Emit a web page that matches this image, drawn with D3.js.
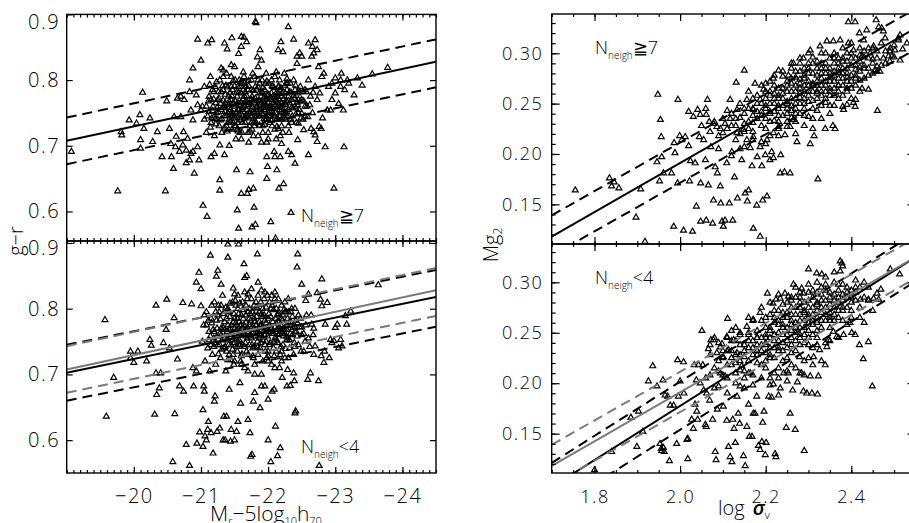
<!DOCTYPE html>
<html>
<head>
<meta charset="utf-8">
<script src="https://cdn.jsdelivr.net/npm/d3@7"></script>
<style>
body { margin: 0; background: #fff; }
svg text { font-family: "Open Sans", "Liberation Sans", sans-serif; font-weight: 300; fill: #000; }
</style>
</head>
<body>
<svg id="chart" width="909" height="523"></svg>
<script>
// g-r colour vs absolute magnitude, rich environment (N_neigh >= 7)
var grRichPts = [
[-19.07,0.691],[-19.76,0.631],[-19.81,0.721],[-19.82,0.716],[-19.93,0.739],[-20.04,0.734],[-20.09,0.747],[-20.13,0.781],[-20.15,0.726],[-20.10,0.709],
[-20.10,0.696],[-20.24,0.742],[-20.28,0.706],[-20.35,0.721],[-20.42,0.683],[-20.47,0.631],[-20.49,0.768],[-20.53,0.726],[-20.55,0.703],[-20.56,0.683],
[-20.59,0.665],[-20.60,0.744],[-20.62,0.698],[-20.63,0.714],[-20.65,0.772],[-20.68,0.691],[-20.70,0.775],[-20.73,0.701],[-20.74,0.721],[-20.78,0.693],
[-20.78,0.674],[-20.80,0.711],[-20.83,0.678],[-20.85,0.688],[-20.88,0.691],[-20.90,0.658],[-20.95,0.698],[-20.97,0.678],[-20.70,0.744],[-20.75,0.770],
[-20.83,0.782],[-20.85,0.754],[-20.88,0.739],[-20.93,0.777],[-20.95,0.762],[-21.00,0.754],[-20.83,0.800],[-20.88,0.818],[-20.95,0.862],[-21.00,0.830],
[-21.03,0.609],[-21.09,0.592],[-21.10,0.856],[-21.16,0.861],[-21.15,0.683],[-21.20,0.688],[-21.28,0.701],[-21.35,0.856],[-21.39,0.847],[-21.46,0.864],
[-21.60,0.866],[-21.64,0.865],[-21.68,0.858],[-21.60,0.851],[-21.56,0.840],[-21.50,0.820],[-21.45,0.823],[-21.30,0.818],[-21.33,0.815],[-21.28,0.648],
[-21.28,0.632],[-21.35,0.686],[-21.53,0.663],[-21.54,0.602],[-21.56,0.574],[-21.60,0.627],[-21.69,0.627],[-21.73,0.660],[-21.71,0.633],[-21.76,0.576],
[-21.81,0.580],[-21.79,0.606],[-21.78,0.635],[-21.81,0.889],[-21.82,0.887],[-21.84,0.835],[-21.85,0.820],[-21.88,0.846],[-21.90,0.830],[-21.98,0.650],
[-21.99,0.668],[-21.98,0.683],[-22.10,0.683],[-22.18,0.683],[-22.20,0.703],[-22.09,0.691],[-22.04,0.584],[-22.11,0.559],[-22.15,0.846],[-22.19,0.858],
[-22.22,0.843],[-22.30,0.881],[-22.38,0.862],[-22.43,0.836],[-22.43,0.825],[-22.47,0.841],[-22.50,0.836],[-22.60,0.856],[-22.65,0.836],[-22.68,0.841],
[-22.73,0.846],[-22.70,0.861],[-22.66,0.851],[-22.34,0.598],[-22.23,0.642],[-22.16,0.635],[-22.13,0.663],[-22.30,0.691],[-22.35,0.686],[-22.40,0.673],
[-22.44,0.709],[-22.45,0.734],[-22.50,0.749],[-22.53,0.724],[-22.59,0.744],[-22.60,0.686],[-22.64,0.726],[-22.68,0.721],[-22.70,0.716],[-22.73,0.706],
[-22.76,0.729],[-22.79,0.726],[-22.85,0.698],[-22.81,0.742],[-22.88,0.754],[-22.93,0.754],[-22.95,0.770],[-22.98,0.635],[-23.05,0.764],[-23.08,0.800],
[-23.09,0.810],[-23.12,0.754],[-23.13,0.698],[-23.14,0.785],[-23.18,0.800],[-23.20,0.795],[-23.28,0.777],[-23.33,0.803],[-23.40,0.792],[-23.55,0.809],
[-23.78,0.819],[-23.00,0.803],[-22.95,0.795],[-22.80,0.805],[-22.75,0.820],[-22.83,0.810],[-22.90,0.790],[-23.00,0.780],[-23.08,0.790],
[-21.02,0.76],[-21.05,0.79],[-21.08,0.72],[-21.10,0.745],[-21.12,0.775],[-21.14,0.805],[-21.15,0.735],[-21.18,0.76],[-21.20,0.715],[-21.21,0.79],
[-21.23,0.75],[-21.25,0.77],[-21.27,0.73],[-21.28,0.80],[-21.30,0.755],[-21.31,0.72],[-21.33,0.785],[-21.35,0.745],[-21.36,0.765],[-21.38,0.81],
[-21.40,0.735],[-21.41,0.775],[-21.42,0.70],[-21.44,0.755],[-21.45,0.79],[-21.46,0.725],[-21.48,0.765],[-21.50,0.745],[-21.51,0.80],[-21.52,0.71],
[-21.54,0.775],[-21.55,0.735],[-21.56,0.755],[-21.58,0.79],[-21.60,0.765],[-21.61,0.72],[-21.62,0.745],[-21.64,0.805],[-21.65,0.775],[-21.66,0.735],
[-21.68,0.755],[-21.70,0.785],[-21.71,0.705],[-21.72,0.765],[-21.74,0.745],[-21.75,0.80],[-21.76,0.725],[-21.78,0.77],[-21.80,0.75],[-21.81,0.79],
[-21.82,0.735],[-21.84,0.76],[-21.85,0.715],[-21.87,0.78],[-21.88,0.745],[-21.90,0.765],[-21.91,0.80],[-21.92,0.73],[-21.94,0.755],[-21.95,0.785],
[-21.96,0.74],[-21.98,0.77],[-22.00,0.72],[-22.01,0.795],[-22.02,0.76],[-22.04,0.745],[-22.05,0.78],[-22.06,0.73],[-22.08,0.765],[-22.10,0.805],
[-22.11,0.75],[-22.12,0.71],[-22.14,0.775],[-22.15,0.74],[-22.16,0.79],[-22.18,0.76],[-22.20,0.73],[-22.21,0.78],[-22.22,0.75],[-22.24,0.81],
[-22.25,0.765],[-22.26,0.74],[-22.28,0.785],[-22.30,0.755],[-22.31,0.72],[-22.33,0.795],[-22.35,0.77],[-22.36,0.745],[-22.38,0.80],[-22.40,0.76],
[-22.42,0.735],[-22.44,0.78],[-22.46,0.755],[-22.48,0.79],[-22.50,0.77],[-22.52,0.74],[-22.55,0.785],[-22.58,0.76],[-22.60,0.80],[-22.63,0.775],
[-22.66,0.75],[-22.70,0.79],[-22.73,0.77],[-22.77,0.78],
[-21.35,0.76],[-21.40,0.75],[-21.45,0.77],[-21.50,0.76],[-21.55,0.755],[-21.60,0.78],[-21.65,0.76],[-21.70,0.745],[-21.75,0.77],[-21.80,0.765],
[-21.85,0.755],[-21.90,0.78],[-21.95,0.765],[-22.00,0.75],[-22.05,0.77],[-22.10,0.76],[-22.15,0.78],[-22.20,0.765],[-22.25,0.75],[-22.30,0.775],
[-21.42,0.74],[-21.52,0.73],[-21.62,0.735],[-21.72,0.73],[-21.82,0.745],[-21.92,0.72],[-22.02,0.735],[-22.12,0.74],[-22.22,0.72],[-21.47,0.785],
[-21.57,0.80],[-21.67,0.79],[-21.77,0.81],[-21.87,0.795],[-21.97,0.81],[-22.07,0.79],[-22.17,0.80],[-22.27,0.795],[-21.33,0.805],[-21.38,0.73],
[-21.58,0.72],[-21.78,0.715],[-21.98,0.705],[-22.18,0.715],[-21.22,0.765],[-21.25,0.74],[-21.17,0.785],[-22.34,0.74],[-22.45,0.77],[-22.55,0.76],
[-21.12,0.752],[-21.16,0.742],[-21.19,0.771],[-21.22,0.733],[-21.24,0.758],[-21.26,0.782],[-21.29,0.764],[-21.31,0.741],[-21.33,0.769],[-21.36,0.752],
[-21.37,0.792],[-21.39,0.722],[-21.41,0.762],[-21.43,0.781],[-21.44,0.737],[-21.46,0.751],[-21.48,0.799],[-21.49,0.742],[-21.51,0.768],[-21.53,0.752],
[-21.54,0.725],[-21.56,0.781],[-21.57,0.762],[-21.59,0.739],[-21.61,0.795],[-21.62,0.771],[-21.63,0.752],[-21.66,0.782],[-21.67,0.745],[-21.69,0.765],
[-21.71,0.799],[-21.72,0.752],[-21.73,0.722],[-21.76,0.775],[-21.77,0.759],[-21.79,0.735],[-21.81,0.772],[-21.83,0.786],[-21.84,0.748],[-21.86,0.769],
[-21.87,0.731],[-21.89,0.755],[-21.91,0.782],[-21.93,0.762],[-21.94,0.741],[-21.96,0.795],[-21.97,0.758],[-21.99,0.778],[-22.01,0.745],[-22.03,0.772],
[-22.04,0.756],[-22.06,0.791],[-22.08,0.748],[-22.09,0.773],[-22.11,0.762],[-22.13,0.729],[-22.14,0.759],[-22.16,0.771],[-22.17,0.745],[-22.19,0.788],
[-22.21,0.758],[-22.23,0.771],[-22.24,0.742],[-22.26,0.762],[-22.28,0.751],[-22.29,0.795],[-22.32,0.765],[-22.34,0.781],[-22.37,0.757],[-22.39,0.772],
[-22.41,0.748],[-22.43,0.766],[-22.47,0.782],[-22.49,0.742],[-22.53,0.768],[-22.57,0.782],[-22.62,0.762],[-22.67,0.781],[-21.42,0.758],[-21.47,0.745],
[-21.52,0.762],[-21.57,0.748],[-21.62,0.758],[-21.67,0.768],[-21.72,0.742],[-21.77,0.752],[-21.82,0.758],[-21.87,0.769],[-21.92,0.748],[-21.97,0.762],
[-22.02,0.752],[-22.07,0.758],[-22.12,0.768],[-22.17,0.755],[-22.22,0.762],[-22.27,0.768],[-21.55,0.79],[-21.65,0.795],[-21.75,0.785],[-21.85,0.80],
[-21.95,0.775],[-22.05,0.80],[-22.15,0.79],[-22.25,0.78],[-21.50,0.73],[-21.60,0.71],[-21.70,0.72],[-21.80,0.73],[-21.90,0.705],[-22.00,0.71],
[-22.10,0.725],[-22.20,0.74],[-22.30,0.73],[-21.20,0.745],[-21.15,0.77],[-21.08,0.76],[-21.05,0.74],[-22.40,0.785],[-22.45,0.75],[-22.55,0.745],
[-21.11,0.768],[-21.13,0.793],[-21.14,0.728],[-21.17,0.753],[-21.19,0.782],[-21.21,0.741],[-21.23,0.797],[-21.26,0.751],[-21.27,0.772],[-21.29,0.739],
[-21.32,0.791],[-21.34,0.758],[-21.36,0.778],[-21.38,0.746],[-21.40,0.789],[-21.42,0.768],[-21.44,0.748],[-21.46,0.776],[-21.48,0.735],[-21.50,0.791],
[-21.52,0.749],[-21.53,0.781],[-21.55,0.765],[-21.58,0.742],[-21.60,0.798],[-21.61,0.755],[-21.63,0.785],[-21.65,0.743],[-21.68,0.776],[-21.70,0.762],
[-21.71,0.791],[-21.73,0.749],[-21.75,0.762],[-21.78,0.784],[-21.79,0.751],[-21.80,0.738],[-21.83,0.768],[-21.85,0.789],[-21.86,0.745],[-21.88,0.762],
[-21.90,0.751],[-21.92,0.788],[-21.93,0.772],[-21.95,0.754],[-21.98,0.741],[-22.00,0.765],[-22.01,0.778],[-22.03,0.758],[-22.05,0.738],[-22.07,0.775],
[-22.09,0.788],[-22.10,0.745],[-22.13,0.782],[-22.15,0.765],[-22.17,0.785],[-22.19,0.752],[-22.20,0.775],[-22.23,0.745],[-22.25,0.792],[-22.27,0.748],
[-22.30,0.768],[-22.32,0.782],[-22.35,0.758],[-22.38,0.776],[-22.41,0.792],[-22.44,0.762],[-22.48,0.768],[-22.52,0.782],[-21.30,0.782],[-21.45,0.805],
[-21.63,0.812],[-21.80,0.805],[-21.98,0.798],[-22.12,0.812],[-22.28,0.802],[-21.35,0.728],[-21.55,0.722],[-21.75,0.735],[-21.95,0.732],[-22.15,0.726],
[-22.35,0.735]
];

// g-r colour vs absolute magnitude, poor environment (N_neigh < 4)
var grPoorPts = [
[-19.57,0.783],[-19.59,0.636],[-19.70,0.695],[-19.95,0.735],[-20.06,0.735],[-19.95,0.725],[-20.00,0.718],[-20.19,0.720],[-20.24,0.753],[-20.26,0.744],
[-20.33,0.805],[-20.34,0.669],[-20.31,0.639],[-20.33,0.702],[-20.38,0.679],[-20.40,0.702],[-20.44,0.748],[-20.49,0.814],[-20.48,0.768],[-20.53,0.740],
[-20.58,0.567],[-20.61,0.640],[-20.60,0.786],[-20.65,0.723],[-20.68,0.682],[-20.73,0.809],[-20.74,0.674],[-20.78,0.593],[-20.83,0.561],[-20.86,0.807],
[-20.88,0.710],[-20.89,0.682],[-20.93,0.840],[-20.93,0.705],[-20.94,0.595],[-20.97,0.855],[-20.98,0.612],[-21.00,0.830],[-21.00,0.804],[-21.03,0.646],
[-21.03,0.590],[-21.04,0.682],[-21.05,0.674],[-21.06,0.606],[-21.08,0.600],[-21.10,0.616],[-21.11,0.628],[-21.14,0.881],[-21.15,0.611],[-21.18,0.580],
[-21.20,0.659],[-21.21,0.667],[-21.23,0.849],[-21.25,0.858],[-21.24,0.613],[-21.28,0.618],[-21.30,0.837],[-21.33,0.600],[-21.34,0.636],[-21.36,0.600],
[-21.38,0.636],[-21.40,0.878],[-21.42,0.677],[-21.44,0.598],[-21.45,0.616],[-21.48,0.831],[-21.50,0.600],[-21.53,0.613],[-21.55,0.628],[-21.58,0.687],
[-21.59,0.656],[-21.64,0.868],[-21.65,0.847],[-21.68,0.850],[-21.70,0.631],[-21.73,0.611],[-21.74,0.575],[-21.76,0.578],[-21.78,0.659],[-21.80,0.672],
[-21.84,0.883],[-21.85,0.840],[-21.88,0.649],[-21.90,0.682],[-21.95,0.682],[-22.00,0.600],[-22.00,0.662],[-22.04,0.567],[-22.06,0.674],[-22.09,0.677],
[-22.11,0.621],[-22.14,0.576],[-22.18,0.588],[-22.21,0.695],[-22.28,0.682],[-22.29,0.707],[-22.33,0.683],[-22.38,0.702],[-22.39,0.690],[-22.40,0.641],
[-22.41,0.644],[-22.43,0.863],[-22.44,0.883],[-22.50,0.837],[-22.56,0.812],[-22.60,0.822],[-22.59,0.692],[-22.63,0.702],[-22.65,0.776],[-22.68,0.730],
[-22.70,0.743],[-22.73,0.824],[-22.75,0.690],[-22.78,0.814],[-22.79,0.728],[-22.80,0.804],[-22.80,0.845],[-22.83,0.718],[-22.84,0.735],[-22.85,0.776],
[-22.88,0.809],[-22.91,0.725],[-22.95,0.748],[-22.93,0.753],[-22.98,0.751],[-23.00,0.771],[-23.03,0.776],[-23.05,0.740],[-23.08,0.753],[-23.10,0.743],
[-23.15,0.789],[-23.17,0.776],[-23.23,0.796],[-22.76,0.561],[-23.64,0.836],[-21.40,0.898],[-21.56,0.898],
[-21.02,0.75],[-21.04,0.775],[-21.06,0.72],[-21.08,0.795],[-21.10,0.74],[-21.12,0.765],[-21.13,0.705],[-21.15,0.785],[-21.17,0.73],[-21.19,0.755],
[-21.20,0.81],[-21.22,0.715],[-21.24,0.77],[-21.25,0.745],[-21.27,0.795],[-21.29,0.725],[-21.30,0.76],[-21.32,0.82],[-21.34,0.74],[-21.35,0.78],
[-21.37,0.705],[-21.39,0.755],[-21.40,0.80],[-21.42,0.73],[-21.44,0.77],[-21.45,0.745],[-21.47,0.81],[-21.49,0.715],[-21.50,0.785],[-21.52,0.755],
[-21.54,0.735],[-21.55,0.80],[-21.57,0.765],[-21.59,0.72],[-21.60,0.79],[-21.62,0.745],[-21.64,0.775],[-21.65,0.71],[-21.67,0.805],[-21.69,0.755],
[-21.70,0.73],[-21.72,0.785],[-21.74,0.76],[-21.75,0.815],[-21.77,0.74],[-21.79,0.77],[-21.80,0.70],[-21.82,0.795],[-21.84,0.75],[-21.85,0.73],
[-21.87,0.78],[-21.89,0.81],[-21.90,0.76],[-21.92,0.72],[-21.94,0.79],[-21.95,0.745],[-21.97,0.77],[-21.99,0.82],[-22.00,0.735],[-22.02,0.765],
[-22.04,0.80],[-22.05,0.715],[-22.07,0.78],[-22.09,0.75],[-22.10,0.825],[-22.12,0.735],[-22.14,0.79],[-22.15,0.76],[-22.17,0.71],[-22.19,0.775],
[-22.20,0.805],[-22.22,0.745],[-22.24,0.77],[-22.25,0.725],[-22.27,0.795],[-22.29,0.755],[-22.30,0.815],[-22.32,0.74],[-22.34,0.78],[-22.36,0.76],
[-22.38,0.73],[-22.40,0.80],[-22.42,0.765],[-22.45,0.745],[-22.48,0.785],[-22.50,0.76],[-22.53,0.735],[-22.56,0.775],[-22.60,0.755],[-22.64,0.79],
[-22.68,0.77],
[-21.30,0.77],[-21.35,0.755],[-21.40,0.775],[-21.45,0.76],[-21.50,0.77],[-21.55,0.75],[-21.60,0.775],[-21.65,0.76],[-21.70,0.77],[-21.75,0.755],
[-21.80,0.78],[-21.85,0.765],[-21.90,0.775],[-21.95,0.76],[-22.00,0.785],[-22.05,0.77],[-22.10,0.755],[-22.15,0.78],[-22.20,0.765],[-21.38,0.735],
[-21.48,0.73],[-21.58,0.745],[-21.68,0.735],[-21.78,0.725],[-21.88,0.74],[-21.98,0.725],[-22.08,0.74],[-22.18,0.73],[-21.42,0.795],[-21.52,0.805],
[-21.62,0.81],[-21.72,0.80],[-21.82,0.81],[-21.92,0.80],[-22.02,0.81],[-22.12,0.80],[-22.22,0.79],[-21.25,0.79],[-21.28,0.745],[-22.28,0.775],
[-22.35,0.80],[-21.57,0.78],[-21.67,0.79],[-21.77,0.795],[-21.87,0.755],[-21.97,0.75],
[-21.12,0.752],[-21.16,0.778],[-21.19,0.742],[-21.22,0.795],[-21.24,0.758],[-21.26,0.731],[-21.29,0.784],[-21.31,0.752],[-21.33,0.771],[-21.36,0.742],
[-21.37,0.802],[-21.39,0.765],[-21.41,0.745],[-21.43,0.788],[-21.44,0.722],[-21.46,0.761],[-21.48,0.779],[-21.49,0.748],[-21.51,0.812],[-21.53,0.768],
[-21.54,0.742],[-21.56,0.792],[-21.57,0.752],[-21.59,0.775],[-21.61,0.731],[-21.62,0.798],[-21.63,0.762],[-21.66,0.748],[-21.67,0.779],[-21.69,0.815],
[-21.71,0.765],[-21.72,0.745],[-21.73,0.792],[-21.76,0.772],[-21.77,0.728],[-21.79,0.785],[-21.81,0.758],[-21.83,0.802],[-21.84,0.741],[-21.86,0.772],
[-21.87,0.795],[-21.89,0.748],[-21.91,0.788],[-21.93,0.765],[-21.94,0.815],[-21.96,0.735],[-21.97,0.778],[-21.99,0.758],[-22.01,0.792],[-22.03,0.748],
[-22.04,0.771],[-22.06,0.805],[-22.08,0.762],[-22.09,0.728],[-22.11,0.785],[-22.13,0.768],[-22.14,0.748],[-22.16,0.795],[-22.17,0.772],[-22.19,0.742],
[-22.21,0.782],[-22.23,0.758],[-22.24,0.799],[-22.26,0.739],[-22.28,0.768],[-22.29,0.785],[-22.32,0.752],[-22.34,0.795],[-22.37,0.771],[-22.39,0.748],
[-22.41,0.782],[-22.43,0.758],[-22.47,0.772],[-22.49,0.735],[-22.53,0.762],[-22.57,0.79],[-22.62,0.742],[-22.67,0.76],[-21.42,0.768],[-21.47,0.752],
[-21.52,0.778],[-21.57,0.762],[-21.62,0.772],[-21.67,0.758],[-21.72,0.775],[-21.77,0.762],[-21.82,0.775],[-21.87,0.762],[-21.92,0.772],[-21.97,0.765],
[-22.02,0.775],[-22.07,0.765],[-22.12,0.778],[-22.17,0.762],[-22.22,0.768],[-22.27,0.758],[-21.55,0.82],[-21.65,0.825],[-21.75,0.83],[-21.85,0.82],
[-21.95,0.825],[-22.05,0.82],[-22.15,0.815],[-22.25,0.81],[-21.50,0.72],[-21.60,0.715],[-21.70,0.705],[-21.80,0.715],[-21.90,0.70],[-22.00,0.72],
[-22.10,0.71],[-22.20,0.72],[-22.30,0.725],[-21.20,0.765],[-21.15,0.745],[-21.08,0.775],[-21.05,0.79],[-22.40,0.765],[-22.45,0.79],[-22.55,0.75],
[-21.11,0.782],[-21.14,0.758],[-21.16,0.805],[-21.18,0.768],[-21.21,0.748],[-21.23,0.782],[-21.26,0.805],[-21.28,0.762],[-21.31,0.738],[-21.33,0.792],
[-21.35,0.768],[-21.38,0.785],[-21.40,0.752],[-21.43,0.808],[-21.45,0.775],[-21.47,0.738],[-21.49,0.792],[-21.51,0.762],[-21.54,0.785],[-21.56,0.745],
[-21.58,0.808],[-21.60,0.762],[-21.63,0.785],[-21.65,0.742],[-21.67,0.768],[-21.70,0.795],[-21.72,0.758],[-21.74,0.782],[-21.76,0.745],[-21.79,0.805],
[-21.81,0.768],[-21.83,0.788],[-21.85,0.758],[-21.88,0.775],[-21.90,0.792],[-21.92,0.752],[-21.95,0.782],[-21.97,0.802],[-21.99,0.768],[-22.02,0.745],
[-22.04,0.788],[-22.06,0.762],[-22.08,0.798],[-22.10,0.772],[-22.13,0.752],[-22.15,0.792],[-22.18,0.768],[-22.20,0.785],[-22.23,0.762],[-22.25,0.795],
[-22.28,0.752],[-22.31,0.778],[-22.33,0.762],[-22.36,0.788],[-22.40,0.772],[-22.44,0.778],[-22.50,0.772],[-21.30,0.805],[-21.50,0.822],[-21.70,0.822],
[-21.90,0.828],[-22.10,0.815],[-22.30,0.795],[-21.40,0.722],[-21.60,0.728],[-21.80,0.742],[-22.00,0.728],[-22.20,0.735],[-22.40,0.742]
];

// Mg2 vs log sigma_v, rich environment
var mgRichPts = [
[1.755,0.164],[1.835,0.176],[1.840,0.168],[1.846,0.172],[1.857,0.166],[1.897,0.137],[1.908,0.165],[1.918,0.113],[1.946,0.192],[1.948,0.259],
[1.954,0.234],[1.952,0.173],[1.956,0.217],[1.957,0.197],[1.961,0.181],[1.980,0.181],[1.985,0.128],[1.986,0.211],[1.988,0.201],[1.994,0.171],
[1.995,0.254],[1.999,0.218],[2.004,0.214],[2.008,0.124],[2.012,0.217],[2.020,0.242],[2.020,0.208],[2.022,0.173],[2.024,0.193],[2.029,0.123],
[2.035,0.191],[2.038,0.148],[2.041,0.244],[2.045,0.217],[2.048,0.171],[2.048,0.133],[2.055,0.214],[2.059,0.194],[2.061,0.239],[2.061,0.134],
[2.064,0.254],[2.066,0.169],[2.068,0.232],[2.072,0.207],[2.076,0.131],[2.078,0.154],[2.082,0.187],[2.086,0.227],[2.087,0.181],[2.094,0.168],
[2.095,0.151],[2.098,0.133],[2.101,0.128],[2.105,0.134],[2.109,0.191],[2.115,0.151],[2.121,0.202],[2.123,0.134],[2.127,0.177],[2.131,0.271],
[2.134,0.156],[2.144,0.194],[2.150,0.283],[2.152,0.161],[2.157,0.153],[2.160,0.164],[2.168,0.188],[2.171,0.126],[2.175,0.270],[2.179,0.149],
[2.187,0.118],[2.191,0.188],[2.193,0.154],[2.199,0.199],[2.203,0.158],[2.210,0.194],[2.214,0.202],[2.218,0.196],[2.234,0.181],[2.235,0.199],
[2.244,0.182],[2.257,0.181],[2.273,0.212],[2.304,0.210],[2.313,0.218],[2.322,0.175],[2.339,0.225],[2.357,0.228],[2.362,0.225],[2.382,0.244],
[2.390,0.249],[2.405,0.251],[2.409,0.247],[2.425,0.265],[2.461,0.243],[2.393,0.331],[2.409,0.331],[2.419,0.320],[2.429,0.313],[2.436,0.323],
[2.458,0.333],[2.464,0.326],[2.471,0.325],[2.475,0.322],[2.491,0.305],[2.502,0.303],[2.510,0.313],[2.514,0.293],[2.514,0.318],[2.495,0.297],
[2.487,0.297],[2.475,0.295],[2.460,0.287],[2.467,0.282],[2.456,0.283],[2.479,0.315],[2.452,0.307],[2.444,0.300],[2.425,0.297],[2.405,0.303],
[2.393,0.310],
[2.031,0.237],[2.047,0.239],[2.078,0.230],[2.094,0.225],[2.105,0.230],[2.117,0.235],[2.133,0.221],[2.148,0.224],[2.156,0.214],[2.164,0.206],
[2.171,0.217],[2.187,0.207],[2.203,0.214],[2.218,0.221],[2.230,0.227],[2.245,0.219],[2.257,0.227],[2.265,0.234],[2.117,0.254],[2.133,0.244],
[2.156,0.254],[2.171,0.244],[2.187,0.254],[2.195,0.264],[2.218,0.275],[2.230,0.283],[2.253,0.278],[2.265,0.290],[2.288,0.295],[2.304,0.303],
[2.327,0.307],[2.343,0.312],[2.358,0.312],[2.374,0.313],
[2.08,0.232],[2.09,0.205],[2.10,0.221],[2.11,0.243],[2.12,0.198],[2.12,0.228],[2.13,0.214],[2.14,0.250],[2.14,0.236],[2.15,0.207],
[2.15,0.222],[2.16,0.245],[2.16,0.262],[2.17,0.231],[2.17,0.214],[2.18,0.250],[2.18,0.197],[2.19,0.238],[2.19,0.268],[2.20,0.225],
[2.20,0.255],[2.20,0.210],[2.21,0.242],[2.21,0.272],[2.22,0.233],[2.22,0.260],[2.23,0.218],[2.23,0.248],[2.24,0.277],[2.24,0.238],
[2.25,0.262],[2.25,0.227],[2.25,0.252],[2.26,0.285],[2.26,0.243],[2.27,0.268],[2.27,0.232],[2.28,0.256],[2.28,0.290],[2.28,0.274],
[2.29,0.245],[2.29,0.262],[2.30,0.280],[2.30,0.237],[2.30,0.268],[2.31,0.253],[2.31,0.296],[2.32,0.272],[2.32,0.243],[2.33,0.285],
[2.33,0.262],[2.34,0.251],[2.34,0.300],[2.35,0.276],[2.35,0.265],[2.35,0.240],[2.36,0.290],[2.36,0.258],[2.37,0.281],[2.37,0.268],
[2.38,0.305],[2.38,0.247],[2.39,0.276],[2.39,0.292],[2.40,0.265],[2.40,0.310],[2.41,0.284],[2.41,0.254],[2.42,0.298],[2.42,0.273],
[2.43,0.288],[2.44,0.305],[2.44,0.264],[2.45,0.294],[2.46,0.282],[2.47,0.310],[2.48,0.290],[2.49,0.302],[2.50,0.296],[2.51,0.315],
[2.52,0.304],[2.53,0.310],
[2.18,0.235],[2.20,0.245],[2.22,0.250],[2.23,0.265],[2.24,0.255],[2.26,0.262],[2.27,0.250],[2.28,0.265],[2.29,0.278],[2.30,0.258],
[2.31,0.270],[2.32,0.260],[2.33,0.275],[2.34,0.268],[2.35,0.285],[2.36,0.272],[2.37,0.290],[2.38,0.280],[2.39,0.265],[2.40,0.295],
[2.41,0.278],[2.42,0.286],[2.43,0.296],[2.26,0.270],[2.28,0.240],[2.30,0.290],[2.32,0.285],[2.25,0.240],[2.21,0.258],[2.19,0.250],
[2.17,0.245],[2.15,0.240],[2.13,0.235],[2.11,0.225],[2.33,0.300],[2.36,0.300],[2.38,0.295],[2.34,0.255],[2.37,0.255],[2.23,0.232],
[2.27,0.282],[2.29,0.255],[2.31,0.235],[2.35,0.248],
[2.13,0.228],[2.14,0.220],[2.15,0.245],[2.16,0.232],[2.17,0.222],[2.18,0.258],[2.18,0.242],[2.19,0.228],[2.20,0.262],[2.20,0.235],
[2.21,0.250],[2.21,0.232],[2.22,0.242],[2.22,0.268],[2.23,0.255],[2.23,0.238],[2.24,0.248],[2.24,0.265],[2.25,0.272],[2.25,0.245],
[2.26,0.255],[2.26,0.236],[2.27,0.262],[2.27,0.245],[2.27,0.276],[2.28,0.250],[2.28,0.282],[2.29,0.268],[2.29,0.285],[2.29,0.238],
[2.30,0.252],[2.30,0.272],[2.31,0.262],[2.31,0.280],[2.31,0.245],[2.32,0.292],[2.32,0.268],[2.32,0.255],[2.33,0.248],[2.33,0.268],
[2.33,0.290],[2.34,0.280],[2.34,0.262],[2.34,0.285],[2.35,0.295],[2.35,0.258],[2.35,0.272],[2.36,0.265],[2.36,0.282],[2.36,0.248],
[2.37,0.295],[2.37,0.275],[2.37,0.262],[2.38,0.285],[2.38,0.268],[2.38,0.258],[2.39,0.285],[2.39,0.300],[2.39,0.272],[2.40,0.288],
[2.40,0.278],[2.40,0.255],[2.41,0.295],[2.41,0.268],[2.42,0.282],[2.42,0.262],[2.43,0.302],[2.43,0.275],[2.44,0.285],[2.44,0.295],
[2.45,0.280],[2.45,0.305],[2.46,0.295],[2.47,0.288],[2.48,0.302],[2.49,0.292],[2.50,0.308],[2.19,0.212],[2.21,0.218],[2.23,0.225],
[2.25,0.232],[2.27,0.220],[2.29,0.228],[2.31,0.225],[2.33,0.235],[2.28,0.295],[2.30,0.300],[2.26,0.290],[2.24,0.282],[2.22,0.278],
[2.20,0.270],[2.17,0.255],[2.15,0.230],[2.14,0.205],[2.12,0.240],[2.10,0.235],[2.09,0.218],[2.07,0.222],[2.06,0.245],[2.05,0.228],
[2.20,0.248],[2.21,0.262],[2.22,0.255],[2.23,0.245],[2.24,0.260],[2.25,0.268],[2.26,0.275],[2.26,0.248],[2.27,0.255],[2.28,0.270],
[2.29,0.275],[2.29,0.250],[2.30,0.262],[2.30,0.285],[2.31,0.268],[2.31,0.290],[2.32,0.278],[2.32,0.262],[2.33,0.258],[2.33,0.280],
[2.34,0.272],[2.34,0.290],[2.35,0.280],[2.35,0.262],[2.36,0.278],[2.36,0.295],[2.37,0.285],[2.37,0.268],[2.38,0.275],[2.38,0.292],
[2.39,0.280],[2.39,0.262],[2.40,0.272],[2.40,0.300],[2.41,0.288],[2.41,0.275],[2.42,0.292],[2.42,0.305],[2.43,0.285],[2.44,0.278],
[2.45,0.290],[2.46,0.302],[2.27,0.240],[2.25,0.250],[2.23,0.258],[2.21,0.240],[2.19,0.242],[2.17,0.238],[2.16,0.225],[2.28,0.260]
];

// Mg2 vs log sigma_v, poor environment
var mgPoorPts = [
[1.800,0.114],[1.840,0.132],[1.885,0.166],[1.899,0.137],[1.903,0.172],[1.913,0.152],[1.926,0.202],[1.936,0.217],[1.946,0.197],[1.953,0.140],
[1.956,0.135],[1.957,0.133],[1.961,0.136],[1.963,0.132],[1.960,0.203],[1.965,0.188],[1.971,0.187],[1.975,0.123],[1.977,0.178],[1.985,0.178],
[1.992,0.140],[1.994,0.223],[1.996,0.187],[2.000,0.202],[2.008,0.221],[2.009,0.190],[2.016,0.144],[2.018,0.125],[2.018,0.145],[2.027,0.164],
[2.031,0.155],[2.033,0.218],[2.035,0.179],[2.038,0.203],[2.039,0.172],[2.041,0.164],[2.043,0.218],[2.047,0.200],[2.051,0.252],[2.053,0.218],
[2.055,0.193],[2.059,0.159],[2.061,0.157],[2.062,0.190],[2.066,0.234],[2.069,0.183],[2.070,0.208],[2.072,0.243],[2.076,0.164],[2.082,0.132],
[2.084,0.124],[2.087,0.174],[2.090,0.197],[2.094,0.210],[2.098,0.239],[2.101,0.177],[2.105,0.207],[2.109,0.163],[2.111,0.264],[2.113,0.137],
[2.117,0.127],[2.121,0.122],[2.123,0.164],[2.126,0.155],[2.129,0.141],[2.133,0.187],[2.136,0.170],[2.139,0.160],[2.140,0.197],[2.144,0.217],
[2.148,0.128],[2.152,0.118],[2.156,0.157],[2.160,0.179],[2.162,0.147],[2.164,0.210],[2.168,0.147],[2.171,0.170],[2.175,0.170],[2.179,0.187],
[2.183,0.138],[2.187,0.134],[2.191,0.142],[2.193,0.161],[2.196,0.172],[2.199,0.129],[2.201,0.141],[2.207,0.187],[2.214,0.186],[2.218,0.199],
[2.222,0.130],[2.224,0.127],[2.230,0.188],[2.234,0.195],[2.242,0.210],[2.248,0.156],[2.253,0.210],[2.257,0.170],[2.263,0.193],[2.269,0.154],
[2.274,0.201],[2.279,0.226],[2.284,0.210],[2.288,0.192],[2.290,0.133],[2.296,0.190],[2.304,0.207],[2.308,0.190],[2.312,0.226],[2.321,0.189],
[2.323,0.207],[2.326,0.233],[2.339,0.218],[2.343,0.236],[2.347,0.243],[2.358,0.251],[2.366,0.246],[2.382,0.248],[2.397,0.260],[2.401,0.250],
[2.409,0.248],[2.419,0.238],[2.428,0.224],[2.440,0.241],[2.449,0.197],[2.430,0.260],[2.460,0.289],[2.464,0.283],[2.469,0.293],[2.452,0.284],
[2.440,0.283],[2.421,0.283],[2.491,0.313],[2.513,0.308],[2.374,0.321],[2.378,0.319],[2.380,0.316],[2.374,0.311],[2.300,0.313],[2.319,0.309],
[2.331,0.308],[2.265,0.298],[2.284,0.294],[2.288,0.289],[2.245,0.289],[2.253,0.286],[2.234,0.284],[2.224,0.283],[2.217,0.279],[2.204,0.289],
[2.078,0.243],[2.094,0.236],[2.109,0.246],[2.125,0.243],[2.140,0.250],[2.156,0.256],[2.171,0.263],[2.187,0.270],[2.086,0.230],[2.101,0.226],
[2.113,0.233],[2.133,0.230],
[2.06,0.205],[2.07,0.228],[2.08,0.195],[2.08,0.215],[2.09,0.240],[2.10,0.208],[2.10,0.225],[2.11,0.190],[2.11,0.245],[2.12,0.218],
[2.12,0.232],[2.13,0.200],[2.13,0.255],[2.14,0.213],[2.14,0.238],[2.15,0.226],[2.15,0.195],[2.16,0.250],[2.16,0.210],[2.17,0.235],
[2.17,0.262],[2.18,0.220],[2.18,0.245],[2.19,0.205],[2.19,0.232],[2.20,0.255],[2.20,0.215],[2.20,0.240],[2.21,0.268],[2.21,0.225],
[2.22,0.248],[2.22,0.210],[2.23,0.235],[2.23,0.272],[2.24,0.222],[2.24,0.258],[2.25,0.242],[2.25,0.280],[2.25,0.212],[2.26,0.262],
[2.26,0.230],[2.27,0.250],[2.27,0.285],[2.28,0.238],[2.28,0.268],[2.29,0.255],[2.29,0.222],[2.30,0.275],[2.30,0.245],[2.30,0.290],
[2.31,0.262],[2.31,0.235],[2.32,0.280],[2.32,0.252],[2.33,0.270],[2.33,0.295],[2.34,0.240],[2.34,0.262],[2.35,0.285],[2.35,0.255],
[2.36,0.275],[2.36,0.300],[2.37,0.265],[2.37,0.245],[2.38,0.288],[2.38,0.272],[2.39,0.258],[2.39,0.295],[2.40,0.280],[2.40,0.265],
[2.41,0.290],[2.41,0.302],[2.42,0.275],[2.43,0.285],[2.44,0.295],[2.45,0.272],
[2.12,0.225],[2.14,0.228],[2.16,0.235],[2.18,0.232],[2.20,0.230],[2.21,0.245],[2.22,0.235],[2.23,0.250],[2.24,0.240],[2.25,0.255],
[2.26,0.245],[2.27,0.260],[2.28,0.255],[2.29,0.270],[2.30,0.260],[2.31,0.275],[2.32,0.265],[2.33,0.282],[2.34,0.275],[2.35,0.270],
[2.36,0.288],[2.37,0.280],[2.38,0.262],[2.26,0.275],[2.28,0.280],[2.24,0.270],[2.22,0.260],[2.19,0.218],[2.21,0.205],[2.23,0.215],
[2.25,0.225],[2.27,0.232],[2.29,0.240],[2.31,0.248],[2.17,0.208],[2.15,0.212],[2.13,0.220],[2.11,0.232],[2.09,0.222],[2.32,0.238],
[2.35,0.242],[2.28,0.210],[2.30,0.225],[2.26,0.218],
[2.10,0.232],[2.11,0.218],[2.12,0.242],[2.13,0.228],[2.14,0.248],[2.14,0.222],[2.15,0.238],[2.16,0.222],[2.16,0.242],[2.17,0.228],
[2.18,0.252],[2.18,0.238],[2.19,0.245],[2.19,0.262],[2.20,0.222],[2.20,0.248],[2.21,0.235],[2.21,0.255],[2.22,0.242],[2.22,0.225],
[2.23,0.258],[2.23,0.242],[2.24,0.232],[2.24,0.248],[2.25,0.265],[2.25,0.235],[2.26,0.252],[2.26,0.282],[2.27,0.242],[2.27,0.268],
[2.28,0.248],[2.28,0.275],[2.29,0.262],[2.29,0.280],[2.30,0.268],[2.30,0.252],[2.31,0.285],[2.31,0.258],[2.32,0.272],[2.32,0.290],
[2.33,0.262],[2.33,0.255],[2.34,0.282],[2.34,0.292],[2.35,0.265],[2.35,0.278],[2.36,0.262],[2.36,0.282],[2.37,0.292],[2.37,0.272],
[2.38,0.298],[2.38,0.282],[2.39,0.275],[2.39,0.285],[2.40,0.292],[2.40,0.272],[2.41,0.282],[2.42,0.295],[2.42,0.265],[2.43,0.300],
[2.44,0.282],[2.20,0.265],[2.22,0.272],[2.24,0.278],[2.26,0.285],[2.28,0.290],[2.30,0.298],[2.21,0.198],[2.23,0.205],[2.25,0.202],
[2.27,0.215],[2.29,0.208],[2.31,0.218],[2.33,0.222],[2.17,0.198],[2.15,0.205],[2.13,0.210],[2.11,0.205],[2.09,0.212],[2.07,0.238],
[2.08,0.245],[2.12,0.252],[2.16,0.265],[2.19,0.275],[2.21,0.280],[2.23,0.288],[2.27,0.295],[2.32,0.300],[2.34,0.305],[2.36,0.310],
[2.15,0.232],[2.16,0.248],[2.17,0.242],[2.18,0.228],[2.19,0.238],[2.20,0.245],[2.21,0.252],[2.22,0.248],[2.22,0.265],[2.23,0.262],
[2.24,0.255],[2.24,0.265],[2.25,0.248],[2.25,0.270],[2.26,0.258],[2.26,0.268],[2.27,0.275],[2.27,0.255],[2.28,0.262],[2.28,0.285],
[2.29,0.272],[2.29,0.248],[2.30,0.282],[2.30,0.265],[2.31,0.268],[2.31,0.292],[2.32,0.278],[2.32,0.260],[2.33,0.288],[2.33,0.275],
[2.34,0.268],[2.34,0.298],[2.35,0.290],[2.35,0.262],[2.36,0.268],[2.37,0.285],[2.37,0.298],[2.38,0.275],[2.39,0.290],[2.40,0.285],
[2.41,0.295],[2.20,0.238],[2.21,0.228],[2.23,0.232],[2.26,0.238],[2.28,0.245],[2.30,0.238],[2.32,0.245],[2.18,0.245],[2.13,0.242]
];

// fitted relations (value at both ends of the x range) and +-1 sigma
var grRichFit = [[-19, 0.7075], [-24.5, 0.828]];
var grRichHi = [[-19, 0.743], [-24.5, 0.862]];
var grRichLo = [[-19, 0.672], [-24.5, 0.789]];
var grPoorFit = [[-19, 0.7026], [-24.5, 0.818]];
var grPoorHi = [[-19, 0.745], [-24.5, 0.859]];
var grPoorLo = [[-19, 0.660], [-24.5, 0.7725]];

var mgRichFit = [[1.7, 0.118], [2.55, 0.325]];
var mgRichHi = [[1.7, 0.139], [2.55, 0.344]];
var mgRichLo = [[1.7, 0.099], [2.55, 0.304]];
var mgPoorFit = [[1.7, 0.097], [2.55, 0.325]];
var mgPoorHi = [[1.7, 0.121], [2.55, 0.349]];
var mgPoorLo = [[1.7, 0.0736], [2.55, 0.301]];

// tick values
var magTicks = [-20, -21, -22, -23, -24];
var grTicks = [0.6, 0.7, 0.8, 0.9];
var sigTicks = [1.8, 2.0, 2.2, 2.4];
var mgTicks = [0.15, 0.20, 0.25, 0.30];

var svg = d3.select("#chart");
var GRAY = "#7a7a7a";

// scales
var magX = d3.scaleLinear().domain([-19, -24.5]).range([66.7, 436]);
var grYTop = d3.scaleLinear().domain([0.555, 0.9]).range([241, 14.4]);
var grYBot = d3.scaleLinear().domain([0.55, 0.903]).range([473, 241]);
var sigX = d3.scaleLinear().domain([1.7, 2.55]).range([551.7, 915.5]);
var mgYTop = d3.scaleLinear().domain([0.1106, 0.339]).range([244, 14]);
var mgYBot = d3.scaleLinear().domain([0.111, 0.338]).range([473, 244]);

var tri = d3.symbol().type(d3.symbolTriangle).size(15);

function panel(o) {
    var x = o.x, y = o.y;
    var xr = x.range(), yr = y.range();
    var left = Math.min(xr[0], xr[1]), right = Math.max(xr[0], xr[1]);
    var top = Math.min(yr[0], yr[1]), bottom = Math.max(yr[0], yr[1]);
    var g = svg.append("g");

    g.append("clipPath").attr("id", o.id)
        .append("rect").attr("x", left).attr("y", top)
        .attr("width", right - left).attr("height", bottom - top);

    var plot = g.append("g").attr("clip-path", "url(#" + o.id + ")");
    plot.selectAll("path.pt").data(o.pts).join("path")
        .attr("class", "pt")
        .attr("d", tri)
        .attr("transform", function(d) { return "translate(" + x(d[0]) + "," + y(d[1]) + ")"; })
        .attr("fill", "none").attr("stroke", "#000").attr("stroke-width", 1.2);

    var line = d3.line().x(function(d) { return x(d[0]); }).y(function(d) { return y(d[1]); });
    o.fits.forEach(function(f) {
        plot.append("path").datum(f.d).attr("d", line)
            .attr("fill", "none").attr("stroke", f.c).attr("stroke-width", 2)
            .attr("stroke-dasharray", f.dash ? "10,6" : null);
    });

    // axes, ticks point inwards like the original plot
    function strip(sel) { sel.select(".domain").remove(); }
    var minorX = d3.range(o.xMinor[0], o.xMinor[1] + 1e-9, o.xMinor[2]);
    g.append("g").attr("transform", "translate(0," + bottom + ")")
        .call(d3.axisBottom(x).tickValues(minorX).tickSizeInner(-3).tickSizeOuter(0).tickFormat(""))
        .call(strip);
    g.append("g").attr("transform", "translate(0," + top + ")")
        .call(d3.axisTop(x).tickValues(minorX).tickSizeInner(-3).tickSizeOuter(0).tickFormat(""))
        .call(strip);
    g.append("g").attr("transform", "translate(0," + bottom + ")")
        .call(d3.axisBottom(x).tickValues(o.xTicks).tickSizeInner(-o.xMaj).tickSizeOuter(0)
            .tickPadding(o.xPad).tickFormat(o.xLabels ? d3.format(o.xFmt) : ""))
        .call(strip);
    g.append("g").attr("transform", "translate(0," + top + ")")
        .call(d3.axisTop(x).tickValues(o.xTicks).tickSizeInner(-o.xMaj).tickSizeOuter(0).tickFormat(""))
        .call(strip);

    if (o.yMinor) {
        var minorY = d3.range(o.yMinor[0], o.yMinor[1] + 1e-9, o.yMinor[2]);
        g.append("g").attr("transform", "translate(" + left + ",0)")
            .call(d3.axisLeft(y).tickValues(minorY).tickSizeInner(-4).tickSizeOuter(0).tickFormat(""))
            .call(strip);
        g.append("g").attr("transform", "translate(" + right + ",0)")
            .call(d3.axisRight(y).tickValues(minorY).tickSizeInner(-4).tickSizeOuter(0).tickFormat(""))
            .call(strip);
    }
    var yl = g.append("g").attr("transform", "translate(" + left + ",0)")
        .call(d3.axisLeft(y).tickValues(o.yTicks).tickSizeInner(-o.yMaj).tickSizeOuter(0)
            .tickPadding(o.yPad).tickFormat(d3.format(o.yFmt)))
        .call(strip);
    g.append("g").attr("transform", "translate(" + right + ",0)")
        .call(d3.axisRight(y).tickValues(o.yTicks).tickSizeInner(-o.yMaj).tickSizeOuter(0).tickFormat(""))
        .call(strip);

    g.selectAll(".tick line").attr("stroke", "#000").attr("stroke-width", 1.2);
    g.selectAll(".tick text").attr("font-size", o.fs).attr("font-family", null)
        .style("letter-spacing", o.ls + "px");
    // a label sitting on the top border is pushed down inside the frame
    yl.selectAll(".tick").each(function(d) {
        if (y(d) < top + 7) d3.select(this).select("text").attr("dy", (0.32 * o.fs + top + 7.5 - y(d)) + "px");
    });

    g.append("rect").attr("x", left).attr("y", top)
        .attr("width", right - left).attr("height", bottom - top)
        .attr("fill", "none").attr("stroke", "#000").attr("stroke-width", 1.4);

    // environment label
    var t = g.append("text").attr("x", o.lab[0]).attr("y", o.lab[1]).attr("font-size", 18);
    t.append("tspan").text("N");
    t.append("tspan").attr("font-size", 10).attr("dy", 5).text("neigh");
    t.append("tspan").attr("dy", -5).text(o.lab[2]);
}

panel({ id: "c1", pts: grRichPts, x: magX, y: grYTop,
    fits: [{ d: grRichFit, c: "#000" }, { d: grRichHi, c: "#000", dash: 1 }, { d: grRichLo, c: "#000", dash: 1 }],
    xTicks: magTicks, xMinor: [-24.5, -19, 0.1], xMaj: 6, xLabels: false, xFmt: "d", xPad: 16,
    yTicks: grTicks, yMaj: 6, yPad: 6.5, yFmt: ".1f", fs: 20, ls: 1.5, lab: [301, 222, "\u22677"] });

panel({ id: "c2", pts: grPoorPts, x: magX, y: grYBot,
    fits: [{ d: grPoorFit, c: "#000" }, { d: grPoorHi, c: "#000", dash: 1 }, { d: grPoorLo, c: "#000", dash: 1 },
           { d: grRichFit, c: GRAY }, { d: grRichHi, c: GRAY, dash: 1 }, { d: grRichLo, c: GRAY, dash: 1 }],
    xTicks: magTicks, xMinor: [-24.5, -19, 0.1], xMaj: 6, xLabels: true, xFmt: "d", xPad: 16,
    yTicks: grTicks, yMaj: 6, yPad: 6.5, yFmt: ".1f", fs: 20, ls: 1.5, lab: [301, 453, "<4"] });

panel({ id: "c3", pts: mgRichPts, x: sigX, y: mgYTop,
    fits: [{ d: mgRichFit, c: "#000" }, { d: mgRichHi, c: "#000", dash: 1 }, { d: mgRichLo, c: "#000", dash: 1 }],
    xTicks: sigTicks, xMinor: [1.7, 2.55, 0.05], xMaj: 7, xLabels: false, xFmt: ".1f", xPad: 17,
    yTicks: mgTicks, yMinor: [0.12, 0.33, 0.01], yMaj: 8, yPad: 8.5, yFmt: ".2f", fs: 18, ls: 1.5, lab: [595, 53.5, "\u22677"] });

panel({ id: "c4", pts: mgPoorPts, x: sigX, y: mgYBot,
    fits: [{ d: mgPoorFit, c: "#000" }, { d: mgPoorHi, c: "#000", dash: 1 }, { d: mgPoorLo, c: "#000", dash: 1 },
           { d: mgRichFit, c: GRAY }, { d: mgRichHi, c: GRAY, dash: 1 }, { d: mgRichLo, c: GRAY, dash: 1 }],
    xTicks: sigTicks, xMinor: [1.7, 2.55, 0.05], xMaj: 7, xLabels: true, xFmt: ".1f", xPad: 17,
    yTicks: mgTicks, yMinor: [0.12, 0.33, 0.01], yMaj: 8, yPad: 8.5, yFmt: ".2f", fs: 18, ls: 1.5, lab: [595, 283.5, "<4"] });

// axis titles
svg.append("text").attr("transform", "translate(23,241) rotate(-90)")
    .attr("text-anchor", "middle").attr("font-size", 20).text("g\u2212r");

var mg = svg.append("text").attr("transform", "translate(498,245) rotate(-90)")
    .attr("text-anchor", "middle").attr("font-size", 20);
mg.append("tspan").text("Mg");
mg.append("tspan").attr("font-size", 12).attr("dy", 4).text("2");

var xt = svg.append("text").attr("x", 210).attr("y", 521).attr("font-size", 21);
xt.append("tspan").text("M");
xt.append("tspan").attr("font-size", 11).attr("dy", 4).text("r");
xt.append("tspan").attr("dy", -4).text("\u22125log");
xt.append("tspan").attr("font-size", 11).attr("dy", 4).text("10");
xt.append("tspan").attr("dy", -4).text("h");
xt.append("tspan").attr("font-size", 11).attr("dy", 4).text("70");

var st = svg.append("text").attr("x", 718).attr("y", 515).attr("font-size", 20);
st.append("tspan").text("log ");
st.append("tspan").attr("font-style", "italic").attr("font-weight", 600).attr("dx", 3).text("\u03c3");
st.append("tspan").attr("font-size", 11).attr("dy", 4).text("v");
</script>
</body>
</html>
